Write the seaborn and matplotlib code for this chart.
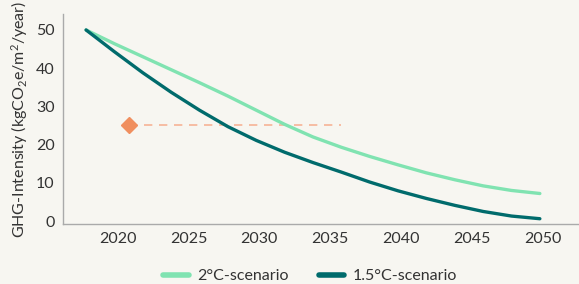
import pandas as pd
import matplotlib.pyplot as plt
import seaborn as sns

# values
years = [2018, 2020, 2022, 2024, 2026, 2028, 2030, 2032, 2034,
         2036, 2038, 2040, 2042, 2044, 2046, 2048, 2050]
scenario_2c = [50, 46.4, 43.0, 39.6, 36.2, 32.7, 29.0, 25.3, 22.0,
               19.3, 16.9, 14.7, 12.6, 10.8, 9.2, 8.0, 7.2]
scenario_15c = [50, 44.3, 38.8, 33.7, 29.0, 24.7, 21.1, 18.0, 15.3,
                12.8, 10.2, 7.9, 5.9, 4.1, 2.5, 1.3, 0.6]
tick_years = [2020, 2025, 2030, 2035, 2040, 2045, 2050]
target_years = [2021, 2036]
target_value = 25

bg = "#f7f6f1"
light = "#80e3b1"
dark = "#006b6c"
orange = "#f08f5f"
orange_light = "#f6b396"

sns.set_theme(style="white")
plt.rcParams["font.family"] = ["Lato", "DejaVu Sans"]
plt.rcParams["mathtext.fontset"] = "custom"
plt.rcParams["mathtext.rm"] = "Lato"
plt.rcParams["mathtext.it"] = "Lato"

df = pd.DataFrame({
    "Year": years * 2,
    "Intensity": scenario_2c + scenario_15c,
    "Scenario": ["2°C-scenario"] * len(years) + ["1.5°C-scenario"] * len(years),
})

fig = plt.figure(figsize=(5.79, 2.84), dpi=100, facecolor=bg)
ax = fig.add_axes([0.109, 0.211, 0.891, 0.74])
ax.set_facecolor(bg)

sns.lineplot(data=df, x="Year", y="Intensity", hue="Scenario",
             palette={"2°C-scenario": light, "1.5°C-scenario": dark},
             linewidth=2.4, ax=ax)

# target marker with dashed line
ax.plot(target_years, [target_value] * 2, color=orange_light, linestyle=(0, (5, 4)),
        linewidth=1.2, zorder=1)
ax.plot([target_years[0]], [target_value], marker="D", markersize=8,
        color=orange, linestyle="none", zorder=3)

ax.set_xlim(2016.38, 2052.76)
ax.set_ylim(-0.8, 54.2)
# year labels sit slightly right of the data points in the original
ax.set_xticks([y + 0.22 for y in tick_years])
ax.set_xticklabels([str(y) for y in tick_years])
ax.set_yticks([0, 10, 20, 30, 40, 50])
ax.set_xlabel("")
ax.set_ylabel(r"GHG-Intensity (kgCO$_2$e/m$^2$/year)", fontsize=11.5,
              color="#333333", labelpad=4)
ax.tick_params(axis="both", labelsize=11.5, colors="#333333", length=0, pad=6)

for side in ["top", "right"]:
    ax.spines[side].set_visible(False)
for side in ["left", "bottom"]:
    ax.spines[side].set_color("#aaaaaa")
    ax.spines[side].set_linewidth(1.0)

handles, labels = ax.get_legend_handles_labels()
for h in handles:
    h.set_linewidth(4)
leg = ax.legend(handles, labels, loc="center",
                bbox_to_anchor=(310 / 579, 1 - 276 / 284),
                bbox_transform=fig.transFigure, ncol=2, frameon=False,
                fontsize=11.5, handlelength=1.6, handletextpad=0.5,
                columnspacing=1.9, labelcolor="#333333")

fig.savefig("out.png", dpi=100, facecolor=bg)
